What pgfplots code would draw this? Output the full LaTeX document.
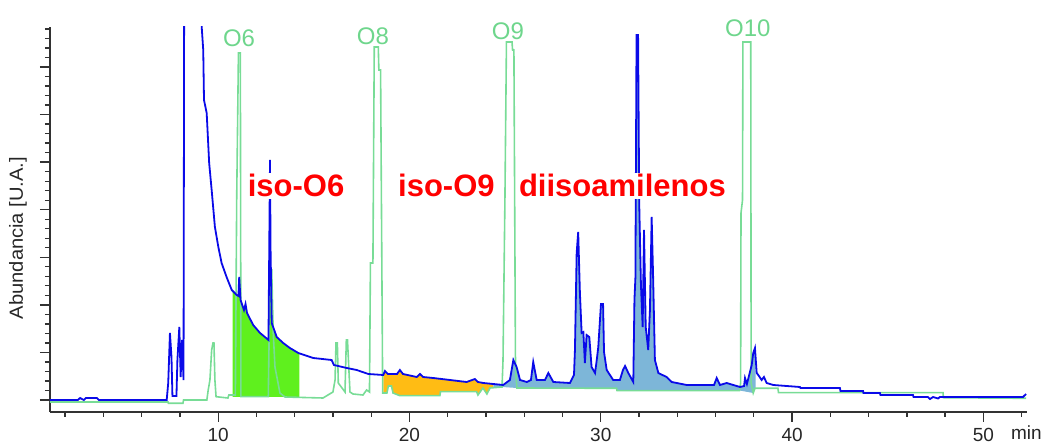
\documentclass[border=0pt]{standalone}
\usepackage{fontspec}
\setmainfont{Liberation Sans}
\usepackage{pgfplots}
\pgfplotsset{compat=1.18}
\usepgfplotslibrary{fillbetween}
\definecolor{tblue}{RGB}{10,10,232}
\definecolor{tgreen}{RGB}{120,220,150}
\definecolor{lgreen}{RGB}{110,214,140}
\definecolor{gfill}{RGB}{95,240,30}
\definecolor{ofill}{RGB}{255,188,20}
\definecolor{bfill}{RGB}{125,182,216}
\definecolor{tred}{RGB}{255,0,0}
\definecolor{axc}{RGB}{50,50,50}
\begin{document}
\begin{tikzpicture}
\begin{axis}[
  set layers,
  scale only axis, width=977pt, height=385pt,
  xmin=1.21, xmax=52.28, ymin=-12, ymax=373,
  axis x line*=bottom, axis y line*=left,
  tick align=outside,
  axis line style={axc, line width=1.3pt},
  tick style={axc, line width=1.3pt},
  major tick length=10pt, minor tick length=5pt,
  xtick={10,20,30,40,50},
  minor xtick={2,4,...,52},
  ytick={0,47.57,95.14,142.71,190.28,237.85,285.42,332.99},
  yticklabels={},
  minor ytick={9.514,19.028,...,372},
  clip mode=individual,
  /pgf/number format/assume math mode=true,
  xticklabel style={font=\fontsize{19}{22}\selectfont, text=black!85, yshift=-3pt},
]
\addplot[draw=none, name path=gbase] table {
10.50 3
14.40 3
18.55 7
18.82 7
18.90 14
19.06 14
19.14 7
19.50 4.3
21.59 4.3
21.62 8.3
23.51 8.3
23.58 5
23.84 12
24.05 6
24.21 12
24.84 13
25.62 12
30.83 11.7
30.85 9.3
37.31 9.3
37.97 7
38.06 11.7
38.30 11.7
};
\addplot[tgreen, line width=1.6pt, name path=green] table {
1.21 -2
7.38 -2
7.40 -3.3
8.16 -3.3
8.19 0
9.41 0
9.48 10
9.57 20
9.66 50
9.73 57
9.78 57
9.83 20
9.89 3.3
10.51 2
10.56 5
10.90 5
10.97 203
11.06 347
11.16 347
11.19 3.3
12.62 3.3
12.67 70
12.73 130
12.80 130
12.88 67
12.97 33
13.23 7
13.49 3
15.48 2
16.00 8
16.11 20
16.16 57
16.23 57
16.28 17
16.63 8
16.70 60
16.76 60
16.89 8
17.05 6
17.57 5
17.76 10
17.91 8
17.96 137
18.09 137
18.16 353
18.37 353
18.40 330
18.49 330
18.60 7
18.82 7
18.90 14
19.06 14
19.14 7
19.50 4.3
21.59 4.3
21.62 8.3
23.51 8.3
23.58 5
23.84 12
24.05 6
24.21 12
24.84 13
24.89 40
24.99 200
25.07 358
25.36 358
25.39 350
25.46 350
25.54 43
25.57 23
25.62 12
30.83 11.7
30.85 9.3
37.25 9.3
37.31 17
37.33 187
37.41 200
37.43 358
37.84 358
37.86 17
37.97 7
38.06 11.7
39.26 11.7
39.29 7.3
47.89 7.3
47.91 2.3
52.23 1.7
};
\addplot[tblue, line width=1.8pt, name path=blue] table {
1.21 0
2.67 0
2.78 2
2.98 0
3.09 2
3.66 2
3.77 0
7.31 0
7.39 17
7.48 67
7.56 43
7.61 4
7.82 4
7.87 40
7.97 73
8.04 23
8.11 60
8.19 20
8.24 600
9.13 600
9.14 373
9.22 350
9.26 300
9.40 287
9.53 237
9.66 210
9.83 173
10.01 153
10.18 137
10.44 123
10.71 110
10.97 105
11.06 104
11.10 123
11.17 100
11.35 90
11.43 96
11.51 87
11.83 75
12.19 67
12.63 60
12.67 150
12.71 240
12.74 150
12.80 77
13.06 63
13.40 57
13.75 52
14.19 47
14.97 42
15.93 40
16.05 35
16.72 32
17.24 30
17.85 26
18.63 25
18.72 29
18.87 26
19.35 26
19.50 30
19.66 26
20.38 23
20.55 26
20.71 23
21.24 22
22.12 20
22.99 18
23.42 21
23.58 18
23.86 17
24.38 16
24.90 15
25.25 20
25.43 40
25.60 33
25.78 20
26.13 18
26.35 20
26.47 38
26.65 20
27.08 20
27.26 27
27.52 18
28.39 17
28.60 25
28.65 50
28.74 147
28.82 168
28.91 107
29.00 67
29.09 68
29.17 37
29.26 65
29.40 63
29.52 33
29.70 27
29.79 40
29.87 53
30.01 96
30.12 96
30.17 48
30.31 30
30.65 20
31.00 20
31.16 30
31.27 34
31.44 27
31.70 18
31.76 100
31.81 122
31.87 365
31.95 365
32.01 197
32.10 115
32.19 73
32.26 170
32.35 73
32.48 50
32.57 90
32.66 183
32.74 120
32.83 40
33.01 27
33.44 23
33.71 18
34.49 15
35.92 15
36.06 22
36.23 15
36.58 17
37.28 13
37.49 14
37.54 22
37.64 16
37.89 35
37.97 47
38.06 52
38.15 27
38.27 24
38.41 20
38.53 23
38.67 17
39.02 15
40.41 13
40.44 12
42.50 12
42.53 9
43.71 9
43.73 7
44.59 7
44.62 5
46.32 5
46.35 3
47.10 3
47.21 1
47.37 3
47.63 1.5
47.73 3
52.07 3
52.23 6
};
\addplot[fill=gfill, draw=none] fill between[of=blue and gbase, soft clip={domain=10.75:14.24}];
\addplot[fill=ofill, draw=none] fill between[of=blue and gbase, soft clip={domain=18.63:24.38}];
\addplot[fill=bfill, draw=none] fill between[of=blue and gbase, soft clip={domain=24.38:38.1}];

\node[font=\bfseries\fontsize{31}{36}\selectfont, text=tred, fill=white, inner sep=2pt, anchor=base] at (axis cs:14.07,203) {iso-O6};
\node[font=\bfseries\fontsize{31}{36}\selectfont, text=tred, fill=white, inner sep=2pt, anchor=base] at (axis cs:21.93,203) {iso-O9};
\node[font=\bfseries\fontsize{31}{36}\selectfont, text=tred, fill=white, inner sep=2pt, anchor=base] at (axis cs:31.13,203) {diisoamilenos};

\node[font=\fontsize{24}{28}\selectfont, text=lgreen, anchor=base] at (axis cs:11.09,353.3) {O6};
\node[font=\fontsize{24}{28}\selectfont, text=lgreen, anchor=base] at (axis cs:18.09,355) {O8};
\node[font=\fontsize{24}{28}\selectfont, text=lgreen, anchor=base] at (axis cs:25.15,360) {O9};
\node[font=\fontsize{24}{28}\selectfont, text=lgreen, anchor=base] at (axis cs:37.69,363.3) {O10};

\node[rotate=90, font=\fontsize{19}{22}\selectfont, text=black!85] at (axis cs:-0.465,162) {\scalebox{1.06}[1]{Abundancia [U.A.]}};
\node[font=\fontsize{19}{22}\selectfont, text=black!85, anchor=base] at (axis cs:52.25,-40) {min};
\end{axis}
\pgfresetboundingbox
\useasboundingbox (-50pt,-32pt) rectangle (995pt,412pt);
\end{tikzpicture}
\end{document}
